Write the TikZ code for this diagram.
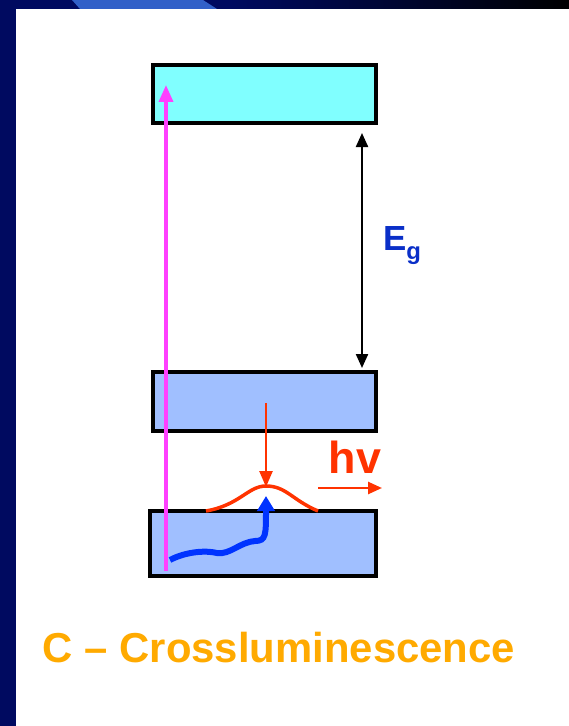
\documentclass[tikz,border=0pt]{standalone}
\usepackage{fontspec}
\setmainfont{Liberation Sans}
\usetikzlibrary{arrows.meta}
\definecolor{slidenavy}{HTML}{000A60}
\definecolor{slideblue}{HTML}{3160C8}
\definecolor{cband}{HTML}{80FFFF}
\definecolor{vband}{HTML}{A0BFFF}
\definecolor{emitred}{HTML}{FF3300}
\definecolor{wavyblue}{HTML}{0033FF}
\definecolor{pumppink}{HTML}{FF40FF}
\definecolor{gapblue}{HTML}{0A2FC8}
\definecolor{titleorange}{HTML}{FFAA00}

\begin{document}
\begin{tikzpicture}[
    x=1bp, y=-1bp,
    band/.style={draw, line width=3.3bp, minimum width=223bp, inner sep=0pt},
    label/.style={font=\bfseries, inner sep=0pt}
]
\useasboundingbox (0,0) rectangle (569,726);

% Slide background
\fill[slidenavy] (0,0) rectangle (569,726);
\shade[left color=slidenavy, right color=black] (230,0) rectangle (569,9);
\fill[slideblue] (72,0) -- (203,0) -- (217,9) -- (80,9) -- cycle;
\fill[white] (16,9) rectangle (569,726);

% Define bands
\node[band, fill=cband, minimum height=58bp] (cb) at (264.5,94) {};
\node[band, fill=vband, minimum height=59bp] (vb) at (264.5,401.5) {};
\node[band, fill=vband, minimum width=226bp, minimum height=65bp] (cor) at (263,543.5) {};

% Define points
\coordinate (pumpS) at (166,571);
\coordinate (pumpE) at (166,85);
\coordinate (gapT) at (362,133);
\coordinate (gapB) at (362,368);
\coordinate (holeS) at (266,403);
\coordinate (holeE) at (266,487);
\coordinate (photS) at (318,488);
\coordinate (photE) at (382,488);

% Define labels
\node[label, text=gapblue, font=\fontsize{35}{35}\selectfont\bfseries] (eg) at (402,246)
    {E\raisebox{-9bp}{\fontsize{24}{24}\selectfont g}};
\node[label, text=emitred, font=\fontsize{45}{45}\selectfont\bfseries] (hv) at (355,457) {hv};
\node[label, text=titleorange, font=\fontsize{42}{42}\selectfont\bfseries] (title) at (279,648)
    {C -- Crossluminescence};

% Define transitions
\draw[pumppink, line width=3.5bp, -{Triangle[width=14bp,length=17bp]}] (pumpS) -- (pumpE);
\draw[line width=2.2bp, {Triangle[width=12bp,length=14bp]}-{Triangle[width=12bp,length=14bp]}] (gapT) -- (gapB);
\draw[emitred, line width=2.5bp, -{Triangle[width=13bp,length=16bp]}] (holeS) -- (holeE);
\draw[emitred, line width=3.5bp] (206,511) .. controls (240,505) and (248,486) .. (266,486)
    .. controls (286,486) and (292,500) .. (318,511);
\draw[wavyblue, line width=6bp, -{Triangle[width=17bp,length=15bp]}] (170,560)
    .. controls (185,552) and (205,550) .. (217,553)
    .. controls (230,555) and (240,542) .. (255,541)
    .. controls (266,541) and (266,535) .. (266,496);
\draw[emitred, line width=2.5bp, -{Triangle[width=12bp,length=14bp]}] (photS) -- (photE);

\end{tikzpicture}
\end{document}
